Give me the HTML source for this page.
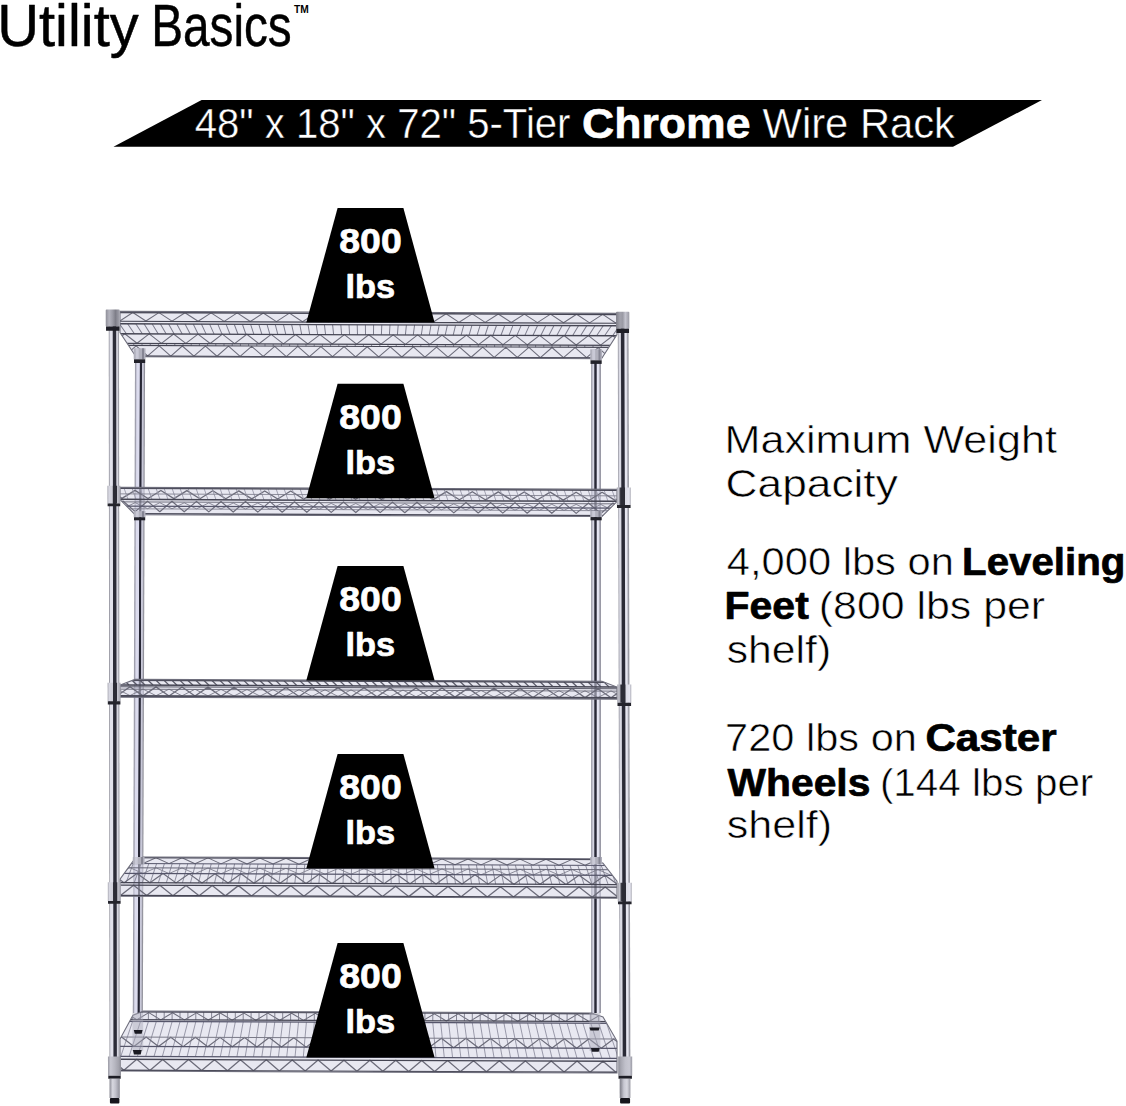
<!DOCTYPE html>
<html><head><meta charset="utf-8"><style>
html,body{margin:0;padding:0;background:#fff;}
body{width:1126px;height:1106px;overflow:hidden;position:relative;font-family:"Liberation Sans",sans-serif;}
svg{position:absolute;left:0;top:0;}
</style></head><body>
<svg width="1126" height="1106" viewBox="0 0 1126 1106">
<defs>
<linearGradient id="gOL" gradientUnits="userSpaceOnUse" x1="109.00" y1="0" x2="119.30" y2="0"><stop offset="0.000" stop-color="#9a9aa4"/><stop offset="0.040" stop-color="#9a9aa4"/><stop offset="0.120" stop-color="#e2e2ec"/><stop offset="0.340" stop-color="#e2e2ec"/><stop offset="0.430" stop-color="#2c2c38"/><stop offset="0.670" stop-color="#2c2c38"/><stop offset="0.770" stop-color="#d6d6e0"/><stop offset="0.840" stop-color="#d6d6e0"/><stop offset="0.940" stop-color="#a0a0aa"/><stop offset="1.000" stop-color="#a0a0aa"/></linearGradient>
<linearGradient id="gOR" gradientUnits="userSpaceOnUse" x1="618.40" y1="0" x2="629.20" y2="0"><stop offset="0.000" stop-color="#a6a6b0"/><stop offset="0.050" stop-color="#a6a6b0"/><stop offset="0.120" stop-color="#dadae4"/><stop offset="0.240" stop-color="#dadae4"/><stop offset="0.340" stop-color="#2a2a36"/><stop offset="0.570" stop-color="#2a2a36"/><stop offset="0.660" stop-color="#e6e6f0"/><stop offset="0.780" stop-color="#e6e6f0"/><stop offset="0.920" stop-color="#9a9aa4"/><stop offset="1.000" stop-color="#9a9aa4"/></linearGradient>
<linearGradient id="gIL" gradientUnits="userSpaceOnUse" x1="134.20" y1="0" x2="144.30" y2="0"><stop offset="0.000" stop-color="#a0a0ae"/><stop offset="0.080" stop-color="#a0a0ae"/><stop offset="0.200" stop-color="#dcdcee"/><stop offset="0.440" stop-color="#dcdcee"/><stop offset="0.510" stop-color="#262634"/><stop offset="0.650" stop-color="#262634"/><stop offset="0.720" stop-color="#c8c8d8"/><stop offset="0.820" stop-color="#c8c8d8"/><stop offset="0.940" stop-color="#92929c"/><stop offset="1.000" stop-color="#92929c"/></linearGradient>
<linearGradient id="gIR" gradientUnits="userSpaceOnUse" x1="591.00" y1="0" x2="601.00" y2="0"><stop offset="0.000" stop-color="#a6a6b2"/><stop offset="0.100" stop-color="#a6a6b2"/><stop offset="0.200" stop-color="#d4d4e2"/><stop offset="0.300" stop-color="#d4d4e2"/><stop offset="0.370" stop-color="#282836"/><stop offset="0.530" stop-color="#282836"/><stop offset="0.600" stop-color="#e6e6f4"/><stop offset="0.740" stop-color="#e6e6f4"/><stop offset="0.900" stop-color="#9a9aa6"/><stop offset="1.000" stop-color="#9a9aa6"/></linearGradient>
<linearGradient id="gcapL" gradientUnits="userSpaceOnUse" x1="106.00" y1="0" x2="120.00" y2="0"><stop offset="0.000" stop-color="#8e8e98"/><stop offset="0.250" stop-color="#b4b4be"/><stop offset="0.500" stop-color="#9a9aa4"/><stop offset="0.700" stop-color="#7e7e88"/><stop offset="1.000" stop-color="#a4a4ae"/></linearGradient>
<linearGradient id="gcapR" gradientUnits="userSpaceOnUse" x1="616.80" y1="0" x2="630.00" y2="0"><stop offset="0.000" stop-color="#7e7e88"/><stop offset="0.300" stop-color="#a2a2ac"/><stop offset="0.500" stop-color="#9a9aa4"/><stop offset="0.700" stop-color="#c4c4ce"/><stop offset="1.000" stop-color="#9a9aa4"/></linearGradient>
<linearGradient id="gcolL" gradientUnits="userSpaceOnUse" x1="107.50" y1="0" x2="120.50" y2="0"><stop offset="0.000" stop-color="#a8a8b2"/><stop offset="0.120" stop-color="#d8d8e2"/><stop offset="0.380" stop-color="#d0d0da"/><stop offset="0.440" stop-color="#2c2c36"/><stop offset="0.700" stop-color="#2c2c36"/><stop offset="0.760" stop-color="#c4c4ce"/><stop offset="1.000" stop-color="#a0a0aa"/></linearGradient>
<linearGradient id="gcolR" gradientUnits="userSpaceOnUse" x1="617.00" y1="0" x2="631.00" y2="0"><stop offset="0.000" stop-color="#a0a0aa"/><stop offset="0.140" stop-color="#c8c8d2"/><stop offset="0.280" stop-color="#2c2c36"/><stop offset="0.560" stop-color="#2c2c36"/><stop offset="0.620" stop-color="#dcdce6"/><stop offset="0.880" stop-color="#e4e4ee"/><stop offset="1.000" stop-color="#a8a8b2"/></linearGradient>
<linearGradient id="gcol5L" gradientUnits="userSpaceOnUse" x1="107.50" y1="0" x2="120.50" y2="0"><stop offset="0.000" stop-color="#9a9aa4"/><stop offset="0.200" stop-color="#c8c8d2"/><stop offset="0.500" stop-color="#b8b8c2"/><stop offset="0.800" stop-color="#a4a4ae"/><stop offset="1.000" stop-color="#8e8e98"/></linearGradient>
<linearGradient id="gcol5R" gradientUnits="userSpaceOnUse" x1="617.00" y1="0" x2="631.00" y2="0"><stop offset="0.000" stop-color="#8e8e98"/><stop offset="0.200" stop-color="#a8a8b2"/><stop offset="0.500" stop-color="#c0c0ca"/><stop offset="0.800" stop-color="#c8c8d2"/><stop offset="1.000" stop-color="#9a9aa4"/></linearGradient>
<linearGradient id="gicol" gradientUnits="userSpaceOnUse" x1="0.00" y1="0" x2="1.00" y2="0"><stop offset="0.000" stop-color="#9a9aa6"/><stop offset="0.300" stop-color="#c4c4d0"/><stop offset="0.600" stop-color="#a8a8b4"/><stop offset="1.000" stop-color="#8a8a96"/></linearGradient>
<linearGradient id="gfootL" gradientUnits="userSpaceOnUse" x1="109.00" y1="0" x2="119.50" y2="0"><stop offset="0.000" stop-color="#8c8c96"/><stop offset="0.300" stop-color="#d8d8e0"/><stop offset="0.600" stop-color="#c0c0ca"/><stop offset="1.000" stop-color="#8c8c96"/></linearGradient>
<linearGradient id="gfootR" gradientUnits="userSpaceOnUse" x1="619.50" y1="0" x2="630.00" y2="0"><stop offset="0.000" stop-color="#8c8c96"/><stop offset="0.300" stop-color="#c8c8d2"/><stop offset="0.600" stop-color="#d8d8e0"/><stop offset="1.000" stop-color="#8c8c96"/></linearGradient>
</defs>
<g transform="matrix(1 0 -0.0034 1 2.006 0)">
<rect x="134.20" y="360.00" width="10.10" height="653.00" fill="url(#gIL)"/>
</g>
<rect x="591.00" y="361.00" width="10.00" height="652.00" fill="url(#gIR)"/>
<g transform="matrix(1 0.0040 0 1 0 -1.920)">
<clipPath id="c0"><polygon points="120.0,312.8 617.0,312.8 617.0,334.0 601.5,358.2 136.0,358.2 120.0,334.0"/></clipPath>
<polygon points="120.0,312.8 617.0,312.8 617.0,334.0 601.5,358.2 136.0,358.2 120.0,334.0" fill="#d6d6e6" fill-opacity="0.55"/>
<g clip-path="url(#c0)">
<polyline points="54.6,313.9 67.6,322.4 80.7,313.9 93.7,322.4 106.8,313.9 119.8,322.4 132.8,313.9 145.9,322.4 158.9,313.9 172.0,322.4 185.0,313.9 198.1,322.4 211.1,313.9 224.2,322.4 237.2,313.9 250.3,322.4 263.3,313.9 276.4,322.4 289.4,313.9 302.5,322.4 315.6,313.9 328.6,322.4 341.7,313.9 354.7,322.4 367.8,313.9 380.8,322.4 393.9,313.9 406.9,322.4 420.0,313.9 433.0,322.4 446.1,313.9 459.1,322.4 472.2,313.9 485.2,322.4 498.3,313.9 511.3,322.4 524.4,313.9 537.4,322.4 550.5,313.9 563.5,322.4 576.6,313.9 589.6,322.4 602.7,313.9 615.7,322.4 628.8,313.9 641.8,322.4 654.9,313.9 667.9,322.4" fill="none" stroke="#6c6c7a" stroke-width="1.05" stroke-linejoin="round"/>
<path d="M103.0 325.2L110.4 335.2M111.2 325.2L118.4 335.2M119.4 325.2L126.4 335.2M127.6 325.2L134.4 335.2M135.8 325.2L142.3 335.2M144.0 325.2L150.3 335.2M152.2 325.2L158.3 335.2M160.4 325.2L166.2 335.2M168.6 325.2L174.2 335.2M176.8 325.2L182.2 335.2M185.0 325.2L190.2 335.2M193.2 325.2L198.1 335.2M201.4 325.2L206.1 335.2M209.6 325.2L214.1 335.2M217.8 325.2L222.0 335.2M226.0 325.2L230.0 335.2M234.2 325.2L238.0 335.2M242.4 325.2L245.9 335.2M250.6 325.2L253.9 335.2M258.8 325.2L261.9 335.2M267.0 325.2L269.9 335.2M275.2 325.2L277.8 335.2M283.4 325.2L285.8 335.2M291.6 325.2L293.8 335.2M299.8 325.2L301.7 335.2M308.0 325.2L309.7 335.2M316.2 325.2L317.7 335.2M324.4 325.2L325.6 335.2M332.6 325.2L333.6 335.2M340.8 325.2L341.6 335.2M349.0 325.2L349.6 335.2M357.2 325.2L357.5 335.2M365.4 325.2L365.5 335.2M373.6 325.2L373.5 335.2M381.8 325.2L381.4 335.2M390.0 325.2L389.4 335.2M398.2 325.2L397.4 335.2M406.4 325.2L405.4 335.2M414.6 325.2L413.3 335.2M422.8 325.2L421.3 335.2M431.0 325.2L429.3 335.2M439.2 325.2L437.2 335.2M447.4 325.2L445.2 335.2M455.6 325.2L453.2 335.2M463.8 325.2L461.1 335.2M472.0 325.2L469.1 335.2M480.2 325.2L477.1 335.2M488.4 325.2L485.1 335.2M496.6 325.2L493.0 335.2M504.8 325.2L501.0 335.2M513.0 325.2L509.0 335.2M521.2 325.2L516.9 335.2M529.4 325.2L524.9 335.2M537.6 325.2L532.9 335.2M545.8 325.2L540.8 335.2M554.0 325.2L548.8 335.2M562.2 325.2L556.8 335.2M570.4 325.2L564.8 335.2M578.6 325.2L572.7 335.2M586.8 325.2L580.7 335.2M595.0 325.2L588.7 335.2M603.2 325.2L596.6 335.2M611.4 325.2L604.6 335.2M619.6 325.2L612.6 335.2M627.8 325.2L620.6 335.2M636.0 325.2L628.5 335.2" stroke="#7c7c8c" stroke-width="1.0" fill="none"/>
<polyline points="51.6,335.2 63.8,344.6 76.0,335.2 88.2,344.6 100.4,335.2 112.6,344.6 124.8,335.2 137.0,344.6 149.2,335.2 161.4,344.6 173.6,335.2 185.8,344.6 198.0,335.2 210.2,344.6 222.4,335.2 234.6,344.6 246.8,335.2 259.0,344.6 271.2,335.2 283.4,344.6 295.6,335.2 307.8,344.6 320.0,335.2 332.2,344.6 344.4,335.2 356.6,344.6 368.8,335.2 381.0,344.6 393.2,335.2 405.4,344.6 417.6,335.2 429.8,344.6 442.0,335.2 454.2,344.6 466.4,335.2 478.6,344.6 490.8,335.2 503.0,344.6 515.2,335.2 527.4,344.6 539.6,335.2 551.8,344.6 564.0,335.2 576.2,344.6 588.4,335.2 600.6,344.6 612.8,335.2 625.0,344.6 637.2,335.2 649.4,344.6 661.6,335.2 673.8,344.6" fill="none" stroke="#6c6c7a" stroke-width="1.05" stroke-linejoin="round"/>
<path d="M101.0 344.8L101.0 347.0M109.2 344.8L109.2 347.0M117.4 344.8L117.4 347.0M125.6 344.8L125.6 347.0M133.8 344.8L133.8 347.0M142.0 344.8L142.0 347.0M150.2 344.8L150.2 347.0M158.4 344.8L158.4 347.0M166.6 344.8L166.6 347.0M174.8 344.8L174.8 347.0M183.0 344.8L183.0 347.0M191.2 344.8L191.2 347.0M199.4 344.8L199.4 347.0M207.6 344.8L207.6 347.0M215.8 344.8L215.8 347.0M224.0 344.8L224.0 347.0M232.2 344.8L232.2 347.0M240.4 344.8L240.4 347.0M248.6 344.8L248.6 347.0M256.8 344.8L256.8 347.0M265.0 344.8L265.0 347.0M273.2 344.8L273.2 347.0M281.4 344.8L281.4 347.0M289.6 344.8L289.6 347.0M297.8 344.8L297.8 347.0M306.0 344.8L306.0 347.0M314.2 344.8L314.2 347.0M322.4 344.8L322.4 347.0M330.6 344.8L330.6 347.0M338.8 344.8L338.8 347.0M347.0 344.8L347.0 347.0M355.2 344.8L355.2 347.0M363.4 344.8L363.4 347.0M371.6 344.8L371.6 347.0M379.8 344.8L379.8 347.0M388.0 344.8L388.0 347.0M396.2 344.8L396.2 347.0M404.4 344.8L404.4 347.0M412.6 344.8L412.6 347.0M420.8 344.8L420.8 347.0M429.0 344.8L429.0 347.0M437.2 344.8L437.2 347.0M445.4 344.8L445.4 347.0M453.6 344.8L453.6 347.0M461.8 344.8L461.8 347.0M470.0 344.8L470.0 347.0M478.2 344.8L478.2 347.0M486.4 344.8L486.4 347.0M494.6 344.8L494.6 347.0M502.8 344.8L502.8 347.0M511.0 344.8L511.0 347.0M519.2 344.8L519.2 347.0M527.4 344.8L527.4 347.0M535.6 344.8L535.6 347.0M543.8 344.8L543.8 347.0M552.0 344.8L552.0 347.0M560.2 344.8L560.2 347.0M568.4 344.8L568.4 347.0M576.6 344.8L576.6 347.0M584.8 344.8L584.8 347.0M593.0 344.8L593.0 347.0M601.2 344.8L601.2 347.0M609.4 344.8L609.4 347.0M617.6 344.8L617.6 347.0M625.8 344.8L625.8 347.0M634.0 344.8L634.0 347.0" stroke="#7c7c8c" stroke-width="1.0" fill="none"/>
<polyline points="66.8,347.2 78.4,357.3 89.9,347.2 101.5,357.3 113.0,347.2 124.6,357.3 136.1,347.2 147.7,357.3 159.2,347.2 170.8,357.3 182.3,347.2 193.9,357.3 205.4,347.2 217.0,357.3 228.5,347.2 240.1,357.3 251.6,347.2 263.2,357.3 274.7,347.2 286.3,357.3 297.8,347.2 309.4,357.3 320.9,347.2 332.5,357.3 344.1,347.2 355.6,357.3 367.2,347.2 378.7,357.3 390.3,347.2 401.8,357.3 413.4,347.2 424.9,357.3 436.5,347.2 448.0,357.3 459.6,347.2 471.1,357.3 482.7,347.2 494.2,357.3 505.8,347.2 517.3,357.3 528.9,347.2 540.4,357.3 552.0,347.2 563.5,357.3 575.1,347.2 586.6,357.3 598.2,347.2 609.7,357.3 621.3,347.2 632.8,357.3 644.4,347.2 655.9,357.3" fill="none" stroke="#6c6c7a" stroke-width="1.05" stroke-linejoin="round"/>
<line x1="100.0" y1="313.90" x2="640.0" y2="313.90" stroke="#454553" stroke-width="1.7"/>
<line x1="100.0" y1="322.70" x2="640.0" y2="322.70" stroke="#454553" stroke-width="1.2"/>
<line x1="100.0" y1="325.20" x2="640.0" y2="325.20" stroke="#454553" stroke-width="1.3"/>
<line x1="100.0" y1="335.20" x2="640.0" y2="335.20" stroke="#454553" stroke-width="1.3"/>
<line x1="100.0" y1="344.80" x2="640.0" y2="344.80" stroke="#454553" stroke-width="1.3"/>
<line x1="100.0" y1="346.90" x2="640.0" y2="346.90" stroke="#454553" stroke-width="1.2"/>
<line x1="100.0" y1="357.60" x2="640.0" y2="357.60" stroke="#454553" stroke-width="1.6"/>
</g>
<polygon points="120.0,312.8 617.0,312.8 617.0,334.0 601.5,358.2 136.0,358.2 120.0,334.0" fill="none" stroke="#6e6e7c" stroke-width="1.1"/>
</g>
<g transform="matrix(1 0.0040 0 1 0 -0.920)">
<clipPath id="c1"><polygon points="120.0,487.8 617.0,487.8 617.0,500.0 602.0,515.0 135.0,515.0 120.0,500.0"/></clipPath>
<polygon points="120.0,487.8 617.0,487.8 617.0,500.0 602.0,515.0 135.0,515.0 120.0,500.0" fill="#d6d6e6" fill-opacity="0.55"/>
<g clip-path="url(#c1)">
<polyline points="57.2,490.8 70.1,498.8 83.1,490.8 96.1,498.8 109.1,490.8 122.0,498.8 135.0,490.8 148.0,498.8 160.9,490.8 173.9,498.8 186.9,490.8 199.9,498.8 212.8,490.8 225.8,498.8 238.8,490.8 251.8,498.8 264.7,490.8 277.7,498.8 290.7,490.8 303.7,498.8 316.6,490.8 329.6,498.8 342.6,490.8 355.6,498.8 368.5,490.8 381.5,498.8 394.5,490.8 407.5,498.8 420.4,490.8 433.4,498.8 446.4,490.8 459.4,498.8 472.3,490.8 485.3,498.8 498.3,490.8 511.3,498.8 524.2,490.8 537.2,498.8 550.2,490.8 563.2,498.8 576.1,490.8 589.1,498.8 602.1,490.8 615.1,498.8 628.1,490.8 641.0,498.8 654.0,490.8 667.0,498.8" fill="none" stroke="#6c6c7a" stroke-width="1.3" stroke-linejoin="round"/>
<path d="M100.0 488.4L104.0 499.8M108.0 488.4L112.0 499.8M116.0 488.4L120.0 499.8M124.0 488.4L128.0 499.8M132.0 488.4L136.0 499.8M140.0 488.4L144.0 499.8M148.0 488.4L152.0 499.8M156.0 488.4L160.0 499.8M164.0 488.4L168.0 499.8M172.0 488.4L176.0 499.8M180.0 488.4L184.0 499.8M188.0 488.4L192.0 499.8M196.0 488.4L200.0 499.8M204.0 488.4L208.0 499.8M212.0 488.4L216.0 499.8M220.0 488.4L224.0 499.8M228.0 488.4L232.0 499.8M236.0 488.4L240.0 499.8M244.0 488.4L248.0 499.8M252.0 488.4L256.0 499.8M260.0 488.4L264.0 499.8M268.0 488.4L272.0 499.8M276.0 488.4L280.0 499.8M284.0 488.4L288.0 499.8M292.0 488.4L296.0 499.8M300.0 488.4L304.0 499.8M308.0 488.4L312.0 499.8M316.0 488.4L320.0 499.8M324.0 488.4L328.0 499.8M332.0 488.4L336.0 499.8M340.0 488.4L344.0 499.8M348.0 488.4L352.0 499.8M356.0 488.4L360.0 499.8M364.0 488.4L368.0 499.8M372.0 488.4L376.0 499.8M380.0 488.4L384.0 499.8M388.0 488.4L392.0 499.8M396.0 488.4L400.0 499.8M404.0 488.4L408.0 499.8M412.0 488.4L416.0 499.8M420.0 488.4L424.0 499.8M428.0 488.4L432.0 499.8M436.0 488.4L440.0 499.8M444.0 488.4L448.0 499.8M452.0 488.4L456.0 499.8M460.0 488.4L464.0 499.8M468.0 488.4L472.0 499.8M476.0 488.4L480.0 499.8M484.0 488.4L488.0 499.8M492.0 488.4L496.0 499.8M500.0 488.4L504.0 499.8M508.0 488.4L512.0 499.8M516.0 488.4L520.0 499.8M524.0 488.4L528.0 499.8M532.0 488.4L536.0 499.8M540.0 488.4L544.0 499.8M548.0 488.4L552.0 499.8M556.0 488.4L560.0 499.8M564.0 488.4L568.0 499.8M572.0 488.4L576.0 499.8M580.0 488.4L584.0 499.8M588.0 488.4L592.0 499.8M596.0 488.4L600.0 499.8M604.0 488.4L608.0 499.8M612.0 488.4L616.0 499.8M620.0 488.4L624.0 499.8M628.0 488.4L632.0 499.8M636.0 488.4L640.0 499.8" stroke="#9a9aaa" stroke-width="0.9" fill="none"/>
<polyline points="74.0,501.5 86.2,512.0 98.5,501.5 110.8,512.0 123.0,501.5 135.2,512.0 147.5,501.5 159.8,512.0 172.0,501.5 184.2,512.0 196.5,501.5 208.8,512.0 221.0,501.5 233.2,512.0 245.5,501.5 257.8,512.0 270.0,501.5 282.2,512.0 294.5,501.5 306.8,512.0 319.0,501.5 331.2,512.0 343.5,501.5 355.8,512.0 368.0,501.5 380.2,512.0 392.5,501.5 404.8,512.0 417.0,501.5 429.2,512.0 441.5,501.5 453.8,512.0 466.0,501.5 478.2,512.0 490.5,501.5 502.8,512.0 515.0,501.5 527.2,512.0 539.5,501.5 551.8,512.0 564.0,501.5 576.2,512.0 588.5,501.5 600.8,512.0 613.0,501.5 625.2,512.0 637.5,501.5 649.8,512.0 662.0,501.5 674.2,512.0" fill="none" stroke="#6c6c7a" stroke-width="1.2" stroke-linejoin="round"/>
<polyline points="61.8,503.0 74.0,509.0 86.2,503.0 98.5,509.0 110.8,503.0 123.0,509.0 135.2,503.0 147.5,509.0 159.8,503.0 172.0,509.0 184.2,503.0 196.5,509.0 208.8,503.0 221.0,509.0 233.2,503.0 245.5,509.0 257.8,503.0 270.0,509.0 282.2,503.0 294.5,509.0 306.8,503.0 319.0,509.0 331.2,503.0 343.5,509.0 355.8,503.0 368.0,509.0 380.2,503.0 392.5,509.0 404.8,503.0 417.0,509.0 429.2,503.0 441.5,509.0 453.8,503.0 466.0,509.0 478.2,503.0 490.5,509.0 502.8,503.0 515.0,509.0 527.2,503.0 539.5,509.0 551.8,503.0 564.0,509.0 576.2,503.0 588.5,509.0 600.8,503.0 613.0,509.0 625.2,503.0 637.5,509.0 649.8,503.0 662.0,509.0" fill="none" stroke="#80808e" stroke-width="0.9" stroke-linejoin="round"/>
<line x1="100.0" y1="488.60" x2="640.0" y2="488.60" stroke="#454553" stroke-width="1.7"/>
<line x1="100.0" y1="494.30" x2="640.0" y2="494.30" stroke="#777786" stroke-width="0.8"/>
<line x1="100.0" y1="499.80" x2="640.0" y2="499.80" stroke="#454553" stroke-width="1.5"/>
<line x1="100.0" y1="502.30" x2="640.0" y2="502.30" stroke="#666674" stroke-width="0.9"/>
<line x1="100.0" y1="506.50" x2="640.0" y2="506.50" stroke="#55556a" stroke-width="1.2"/>
<line x1="100.0" y1="509.20" x2="640.0" y2="509.20" stroke="#777786" stroke-width="0.8"/>
<line x1="100.0" y1="514.20" x2="640.0" y2="514.20" stroke="#454553" stroke-width="1.6"/>
</g>
<polygon points="120.0,487.8 617.0,487.8 617.0,500.0 602.0,515.0 135.0,515.0 120.0,500.0" fill="none" stroke="#6e6e7c" stroke-width="1.1"/>
</g>
<g transform="matrix(1 0.0040 0 1 0 -1.920)">
<clipPath id="c2"><polygon points="135.0,680.8 602.0,680.8 617.0,686.5 617.0,698.6 120.0,698.6 120.0,686.5"/></clipPath>
<polygon points="135.0,680.8 602.0,680.8 617.0,686.5 617.0,698.6 120.0,698.6 120.0,686.5" fill="#d6d6e6" fill-opacity="0.55"/>
<g clip-path="url(#c2)">
<path d="M100.0 681.6L105.0 686.4M108.0 681.6L113.0 686.4M116.0 681.6L121.0 686.4M124.0 681.6L129.0 686.4M132.0 681.6L137.0 686.4M140.0 681.6L145.0 686.4M148.0 681.6L153.0 686.4M156.0 681.6L161.0 686.4M164.0 681.6L169.0 686.4M172.0 681.6L177.0 686.4M180.0 681.6L185.0 686.4M188.0 681.6L193.0 686.4M196.0 681.6L201.0 686.4M204.0 681.6L209.0 686.4M212.0 681.6L217.0 686.4M220.0 681.6L225.0 686.4M228.0 681.6L233.0 686.4M236.0 681.6L241.0 686.4M244.0 681.6L249.0 686.4M252.0 681.6L257.0 686.4M260.0 681.6L265.0 686.4M268.0 681.6L273.0 686.4M276.0 681.6L281.0 686.4M284.0 681.6L289.0 686.4M292.0 681.6L297.0 686.4M300.0 681.6L305.0 686.4M308.0 681.6L313.0 686.4M316.0 681.6L321.0 686.4M324.0 681.6L329.0 686.4M332.0 681.6L337.0 686.4M340.0 681.6L345.0 686.4M348.0 681.6L353.0 686.4M356.0 681.6L361.0 686.4M364.0 681.6L369.0 686.4M372.0 681.6L377.0 686.4M380.0 681.6L385.0 686.4M388.0 681.6L393.0 686.4M396.0 681.6L401.0 686.4M404.0 681.6L409.0 686.4M412.0 681.6L417.0 686.4M420.0 681.6L425.0 686.4M428.0 681.6L433.0 686.4M436.0 681.6L441.0 686.4M444.0 681.6L449.0 686.4M452.0 681.6L457.0 686.4M460.0 681.6L465.0 686.4M468.0 681.6L473.0 686.4M476.0 681.6L481.0 686.4M484.0 681.6L489.0 686.4M492.0 681.6L497.0 686.4M500.0 681.6L505.0 686.4M508.0 681.6L513.0 686.4M516.0 681.6L521.0 686.4M524.0 681.6L529.0 686.4M532.0 681.6L537.0 686.4M540.0 681.6L545.0 686.4M548.0 681.6L553.0 686.4M556.0 681.6L561.0 686.4M564.0 681.6L569.0 686.4M572.0 681.6L577.0 686.4M580.0 681.6L585.0 686.4M588.0 681.6L593.0 686.4M596.0 681.6L601.0 686.4M604.0 681.6L609.0 686.4M612.0 681.6L617.0 686.4M620.0 681.6L625.0 686.4M628.0 681.6L633.0 686.4M636.0 681.6L641.0 686.4" stroke="#5c5c6a" stroke-width="1.3" fill="none"/>
<polyline points="65.0,697.2 78.0,688.2 91.0,697.2 104.0,688.2 117.0,697.2 130.0,688.2 143.0,697.2 156.0,688.2 169.0,697.2 182.0,688.2 195.0,697.2 208.0,688.2 221.0,697.2 234.0,688.2 247.0,697.2 260.0,688.2 273.0,697.2 286.0,688.2 299.0,697.2 312.0,688.2 325.0,697.2 338.0,688.2 351.0,697.2 364.0,688.2 377.0,697.2 390.0,688.2 403.0,697.2 416.0,688.2 429.0,697.2 442.0,688.2 455.0,697.2 468.0,688.2 481.0,697.2 494.0,688.2 507.0,697.2 520.0,688.2 533.0,697.2 546.0,688.2 559.0,697.2 572.0,688.2 585.0,697.2 598.0,688.2 611.0,697.2 624.0,688.2 637.0,697.2 650.0,688.2 663.0,697.2 676.0,688.2" fill="none" stroke="#6c6c7a" stroke-width="1.3" stroke-linejoin="round"/>
<polyline points="52.0,697.0 65.0,690.4 78.0,697.0 91.0,690.4 104.0,697.0 117.0,690.4 130.0,697.0 143.0,690.4 156.0,697.0 169.0,690.4 182.0,697.0 195.0,690.4 208.0,697.0 221.0,690.4 234.0,697.0 247.0,690.4 260.0,697.0 273.0,690.4 286.0,697.0 299.0,690.4 312.0,697.0 325.0,690.4 338.0,697.0 351.0,690.4 364.0,697.0 377.0,690.4 390.0,697.0 403.0,690.4 416.0,697.0 429.0,690.4 442.0,697.0 455.0,690.4 468.0,697.0 481.0,690.4 494.0,697.0 507.0,690.4 520.0,697.0 533.0,690.4 546.0,697.0 559.0,690.4 572.0,697.0 585.0,690.4 598.0,697.0 611.0,690.4 624.0,697.0 637.0,690.4 650.0,697.0 663.0,690.4" fill="none" stroke="#7a7a88" stroke-width="0.9" stroke-linejoin="round"/>
<line x1="100.0" y1="681.60" x2="640.0" y2="681.60" stroke="#454553" stroke-width="1.7"/>
<line x1="100.0" y1="686.50" x2="640.0" y2="686.50" stroke="#454553" stroke-width="1.5"/>
<line x1="100.0" y1="688.20" x2="640.0" y2="688.20" stroke="#5a5a68" stroke-width="1.0"/>
<line x1="100.0" y1="690.60" x2="640.0" y2="690.60" stroke="#6a6a78" stroke-width="0.9"/>
<line x1="100.0" y1="697.50" x2="640.0" y2="697.50" stroke="#4a4a58" stroke-width="2.0"/>
</g>
<polygon points="135.0,680.8 602.0,680.8 617.0,686.5 617.0,698.6 120.0,698.6 120.0,686.5" fill="none" stroke="#6e6e7c" stroke-width="1.1"/>
</g>
<g transform="matrix(1 0.0040 0 1 0 -1.220)">
<clipPath id="c3"><polygon points="143.5,857.6 591.5,857.6 603.0,862.0 617.0,880.0 617.0,897.0 120.0,897.0 120.0,880.0 133.0,862.0"/></clipPath>
<polygon points="143.5,857.6 591.5,857.6 603.0,862.0 617.0,880.0 617.0,897.0 120.0,897.0 120.0,880.0 133.0,862.0" fill="#d6d6e6" fill-opacity="0.55"/>
<g clip-path="url(#c3)">
<polyline points="65.0,864.2 78.0,858.3 91.0,864.2 104.0,858.3 117.0,864.2 130.0,858.3 143.0,864.2 156.0,858.3 169.0,864.2 182.0,858.3 195.0,864.2 208.0,858.3 221.0,864.2 234.0,858.3 247.0,864.2 260.0,858.3 273.0,864.2 286.0,858.3 299.0,864.2 312.0,858.3 325.0,864.2 338.0,858.3 351.0,864.2 364.0,858.3 377.0,864.2 390.0,858.3 403.0,864.2 416.0,858.3 429.0,864.2 442.0,858.3 455.0,864.2 468.0,858.3 481.0,864.2 494.0,858.3 507.0,864.2 520.0,858.3 533.0,864.2 546.0,858.3 559.0,864.2 572.0,858.3 585.0,864.2 598.0,858.3 611.0,864.2 624.0,858.3 637.0,864.2 650.0,858.3 663.0,864.2 676.0,858.3" fill="none" stroke="#6c6c7a" stroke-width="1.0" stroke-linejoin="round"/>
<path d="M102.0 864.2L94.0 883.4M109.8 864.2L102.0 883.4M117.6 864.2L110.1 883.4M125.4 864.2L118.1 883.4M133.2 864.2L126.1 883.4M141.0 864.2L134.2 883.4M148.8 864.2L142.2 883.4M156.6 864.2L150.2 883.4M164.4 864.2L158.3 883.4M172.2 864.2L166.3 883.4M180.0 864.2L174.3 883.4M187.8 864.2L182.4 883.4M195.6 864.2L190.4 883.4M203.4 864.2L198.4 883.4M211.2 864.2L206.5 883.4M219.0 864.2L214.5 883.4M226.8 864.2L222.5 883.4M234.6 864.2L230.6 883.4M242.4 864.2L238.6 883.4M250.2 864.2L246.6 883.4M258.0 864.2L254.7 883.4M265.8 864.2L262.7 883.4M273.6 864.2L270.7 883.4M281.4 864.2L278.8 883.4M289.2 864.2L286.8 883.4M297.0 864.2L294.8 883.4M304.8 864.2L302.9 883.4M312.6 864.2L310.9 883.4M320.4 864.2L318.9 883.4M328.2 864.2L327.0 883.4M336.0 864.2L335.0 883.4M343.8 864.2L343.0 883.4M351.6 864.2L351.1 883.4M359.4 864.2L359.1 883.4M367.2 864.2L367.1 883.4M375.0 864.2L375.2 883.4M382.8 864.2L383.2 883.4M390.6 864.2L391.2 883.4M398.4 864.2L399.3 883.4M406.2 864.2L407.3 883.4M414.0 864.2L415.4 883.4M421.8 864.2L423.4 883.4M429.6 864.2L431.4 883.4M437.4 864.2L439.5 883.4M445.2 864.2L447.5 883.4M453.0 864.2L455.5 883.4M460.8 864.2L463.6 883.4M468.6 864.2L471.6 883.4M476.4 864.2L479.6 883.4M484.2 864.2L487.7 883.4M492.0 864.2L495.7 883.4M499.8 864.2L503.7 883.4M507.6 864.2L511.8 883.4M515.4 864.2L519.8 883.4M523.2 864.2L527.8 883.4M531.0 864.2L535.9 883.4M538.8 864.2L543.9 883.4M546.6 864.2L551.9 883.4M554.4 864.2L560.0 883.4M562.2 864.2L568.0 883.4M570.0 864.2L576.0 883.4M577.8 864.2L584.1 883.4M585.6 864.2L592.1 883.4M593.4 864.2L600.1 883.4M601.2 864.2L608.2 883.4M609.0 864.2L616.2 883.4M616.8 864.2L624.2 883.4M624.6 864.2L632.3 883.4M632.4 864.2L640.3 883.4" stroke="#9090a0" stroke-width="1.0" fill="none"/>
<polyline points="52.0,868.4 65.0,874.1 78.0,868.4 91.0,874.1 104.0,868.4 117.0,874.1 130.0,868.4 143.0,874.1 156.0,868.4 169.0,874.1 182.0,868.4 195.0,874.1 208.0,868.4 221.0,874.1 234.0,868.4 247.0,874.1 260.0,868.4 273.0,874.1 286.0,868.4 299.0,874.1 312.0,868.4 325.0,874.1 338.0,868.4 351.0,874.1 364.0,868.4 377.0,874.1 390.0,868.4 403.0,874.1 416.0,868.4 429.0,874.1 442.0,868.4 455.0,874.1 468.0,868.4 481.0,874.1 494.0,868.4 507.0,874.1 520.0,868.4 533.0,874.1 546.0,868.4 559.0,874.1 572.0,868.4 585.0,874.1 598.0,868.4 611.0,874.1 624.0,868.4 637.0,874.1 650.0,868.4 663.0,874.1" fill="none" stroke="#80808e" stroke-width="0.9" stroke-linejoin="round"/>
<polyline points="72.0,883.4 85.0,874.1 98.0,883.4 111.0,874.1 124.0,883.4 137.0,874.1 150.0,883.4 163.0,874.1 176.0,883.4 189.0,874.1 202.0,883.4 215.0,874.1 228.0,883.4 241.0,874.1 254.0,883.4 267.0,874.1 280.0,883.4 293.0,874.1 306.0,883.4 319.0,874.1 332.0,883.4 345.0,874.1 358.0,883.4 371.0,874.1 384.0,883.4 397.0,874.1 410.0,883.4 423.0,874.1 436.0,883.4 449.0,874.1 462.0,883.4 475.0,874.1 488.0,883.4 501.0,874.1 514.0,883.4 527.0,874.1 540.0,883.4 553.0,874.1 566.0,883.4 579.0,874.1 592.0,883.4 605.0,874.1 618.0,883.4 631.0,874.1 644.0,883.4 657.0,874.1" fill="none" stroke="#6c6c7a" stroke-width="1.2" stroke-linejoin="round"/>
<polyline points="55.0,885.9 68.1,896.2 81.2,885.9 94.3,896.2 107.4,885.9 120.5,896.2 133.6,885.9 146.7,896.2 159.8,885.9 172.9,896.2 186.0,885.9 199.1,896.2 212.2,885.9 225.3,896.2 238.4,885.9 251.5,896.2 264.6,885.9 277.7,896.2 290.8,885.9 303.9,896.2 317.0,885.9 330.1,896.2 343.2,885.9 356.3,896.2 369.4,885.9 382.5,896.2 395.6,885.9 408.7,896.2 421.8,885.9 434.9,896.2 448.0,885.9 461.1,896.2 474.2,885.9 487.3,896.2 500.4,885.9 513.5,896.2 526.6,885.9 539.7,896.2 552.8,885.9 565.9,896.2 579.0,885.9 592.1,896.2 605.2,885.9 618.3,896.2 631.4,885.9 644.5,896.2 657.6,885.9 670.7,896.2" fill="none" stroke="#6c6c7a" stroke-width="1.3" stroke-linejoin="round"/>
<line x1="100.0" y1="858.20" x2="640.0" y2="858.20" stroke="#454553" stroke-width="1.5"/>
<line x1="100.0" y1="864.20" x2="640.0" y2="864.20" stroke="#55556a" stroke-width="1.1"/>
<line x1="100.0" y1="868.40" x2="640.0" y2="868.40" stroke="#666676" stroke-width="1.0"/>
<line x1="100.0" y1="874.10" x2="640.0" y2="874.10" stroke="#55556a" stroke-width="1.1"/>
<line x1="100.0" y1="883.40" x2="640.0" y2="883.40" stroke="#454553" stroke-width="1.2"/>
<line x1="100.0" y1="885.90" x2="640.0" y2="885.90" stroke="#454553" stroke-width="1.3"/>
<line x1="100.0" y1="896.40" x2="640.0" y2="896.40" stroke="#454553" stroke-width="1.7"/>
</g>
<polygon points="143.5,857.6 591.5,857.6 603.0,862.0 617.0,880.0 617.0,897.0 120.0,897.0 120.0,880.0 133.0,862.0" fill="none" stroke="#6e6e7c" stroke-width="1.1"/>
</g>
<g transform="matrix(1 0.0040 0 1 0 -1.420)">
<clipPath id="c4"><polygon points="143.5,1012.0 591.5,1012.0 603.0,1016.0 617.0,1040.0 617.0,1072.0 120.0,1072.0 120.0,1040.0 133.0,1016.0"/></clipPath>
<polygon points="143.5,1012.0 591.5,1012.0 603.0,1016.0 617.0,1040.0 617.0,1072.0 120.0,1072.0 120.0,1040.0 133.0,1016.0" fill="#d6d6e6" fill-opacity="0.55"/>
<g clip-path="url(#c4)">
<polyline points="53.6,1013.5 65.5,1020.6 77.4,1013.5 89.3,1020.6 101.2,1013.5 113.1,1020.6 125.0,1013.5 136.9,1020.6 148.8,1013.5 160.7,1020.6 172.6,1013.5 184.5,1020.6 196.4,1013.5 208.3,1020.6 220.2,1013.5 232.1,1020.6 244.0,1013.5 255.9,1020.6 267.8,1013.5 279.7,1020.6 291.6,1013.5 303.5,1020.6 315.4,1013.5 327.3,1020.6 339.2,1013.5 351.1,1020.6 363.0,1013.5 374.9,1020.6 386.8,1013.5 398.7,1020.6 410.6,1013.5 422.5,1020.6 434.4,1013.5 446.3,1020.6 458.2,1013.5 470.1,1020.6 482.0,1013.5 493.9,1020.6 505.8,1013.5 517.7,1020.6 529.6,1013.5 541.5,1020.6 553.4,1013.5 565.3,1020.6 577.2,1013.5 589.1,1020.6 601.0,1013.5 612.9,1020.6 624.8,1013.5 636.7,1020.6 648.6,1013.5 660.5,1020.6" fill="none" stroke="#6c6c7a" stroke-width="1.0" stroke-linejoin="round"/>
<path d="M101.0 1022.3L87.6 1057.3M108.9 1022.3L95.9 1057.3M116.8 1022.3L104.2 1057.3M124.7 1022.3L112.5 1057.3M132.6 1022.3L120.8 1057.3M140.5 1022.3L129.1 1057.3M148.4 1022.3L137.4 1057.3M156.3 1022.3L145.7 1057.3M164.2 1022.3L154.0 1057.3M172.1 1022.3L162.3 1057.3M180.0 1022.3L170.6 1057.3M187.9 1022.3L178.8 1057.3M195.8 1022.3L187.1 1057.3M203.7 1022.3L195.4 1057.3M211.6 1022.3L203.7 1057.3M219.5 1022.3L212.0 1057.3M227.4 1022.3L220.3 1057.3M235.3 1022.3L228.6 1057.3M243.2 1022.3L236.9 1057.3M251.1 1022.3L245.2 1057.3M259.0 1022.3L253.5 1057.3M266.9 1022.3L261.8 1057.3M274.8 1022.3L270.1 1057.3M282.7 1022.3L278.4 1057.3M290.6 1022.3L286.7 1057.3M298.5 1022.3L295.0 1057.3M306.4 1022.3L303.3 1057.3M314.3 1022.3L311.6 1057.3M322.2 1022.3L319.9 1057.3M330.1 1022.3L328.2 1057.3M338.0 1022.3L336.4 1057.3M345.9 1022.3L344.7 1057.3M353.8 1022.3L353.0 1057.3M361.7 1022.3L361.3 1057.3M369.6 1022.3L369.6 1057.3M377.5 1022.3L377.9 1057.3M385.4 1022.3L386.2 1057.3M393.3 1022.3L394.5 1057.3M401.2 1022.3L402.8 1057.3M409.1 1022.3L411.1 1057.3M417.0 1022.3L419.4 1057.3M424.9 1022.3L427.7 1057.3M432.8 1022.3L436.0 1057.3M440.7 1022.3L444.3 1057.3M448.6 1022.3L452.6 1057.3M456.5 1022.3L460.9 1057.3M464.4 1022.3L469.2 1057.3M472.3 1022.3L477.5 1057.3M480.2 1022.3L485.8 1057.3M488.1 1022.3L494.1 1057.3M496.0 1022.3L502.3 1057.3M503.9 1022.3L510.6 1057.3M511.8 1022.3L518.9 1057.3M519.7 1022.3L527.2 1057.3M527.6 1022.3L535.5 1057.3M535.5 1022.3L543.8 1057.3M543.4 1022.3L552.1 1057.3M551.3 1022.3L560.4 1057.3M559.2 1022.3L568.7 1057.3M567.1 1022.3L577.0 1057.3M575.0 1022.3L585.3 1057.3M582.9 1022.3L593.6 1057.3M590.8 1022.3L601.9 1057.3M598.7 1022.3L610.2 1057.3M606.6 1022.3L618.5 1057.3M614.5 1022.3L626.8 1057.3M622.4 1022.3L635.1 1057.3M630.3 1022.3L643.4 1057.3M638.2 1022.3L651.7 1057.3" stroke="#9a9aaa" stroke-width="1.0" fill="none"/>
<path d="M101.0 1012.4L101.0 1020.6M108.9 1012.4L108.9 1020.6M116.8 1012.4L116.8 1020.6M124.7 1012.4L124.7 1020.6M132.6 1012.4L132.6 1020.6M140.5 1012.4L140.5 1020.6M148.4 1012.4L148.4 1020.6M156.3 1012.4L156.3 1020.6M164.2 1012.4L164.2 1020.6M172.1 1012.4L172.1 1020.6M180.0 1012.4L180.0 1020.6M187.9 1012.4L187.9 1020.6M195.8 1012.4L195.8 1020.6M203.7 1012.4L203.7 1020.6M211.6 1012.4L211.6 1020.6M219.5 1012.4L219.5 1020.6M227.4 1012.4L227.4 1020.6M235.3 1012.4L235.3 1020.6M243.2 1012.4L243.2 1020.6M251.1 1012.4L251.1 1020.6M259.0 1012.4L259.0 1020.6M266.9 1012.4L266.9 1020.6M274.8 1012.4L274.8 1020.6M282.7 1012.4L282.7 1020.6M290.6 1012.4L290.6 1020.6M298.5 1012.4L298.5 1020.6M306.4 1012.4L306.4 1020.6M314.3 1012.4L314.3 1020.6M322.2 1012.4L322.2 1020.6M330.1 1012.4L330.1 1020.6M338.0 1012.4L338.0 1020.6M345.9 1012.4L345.9 1020.6M353.8 1012.4L353.8 1020.6M361.7 1012.4L361.7 1020.6M369.6 1012.4L369.6 1020.6M377.5 1012.4L377.5 1020.6M385.4 1012.4L385.4 1020.6M393.3 1012.4L393.3 1020.6M401.2 1012.4L401.2 1020.6M409.1 1012.4L409.1 1020.6M417.0 1012.4L417.0 1020.6M424.9 1012.4L424.9 1020.6M432.8 1012.4L432.8 1020.6M440.7 1012.4L440.7 1020.6M448.6 1012.4L448.6 1020.6M456.5 1012.4L456.5 1020.6M464.4 1012.4L464.4 1020.6M472.3 1012.4L472.3 1020.6M480.2 1012.4L480.2 1020.6M488.1 1012.4L488.1 1020.6M496.0 1012.4L496.0 1020.6M503.9 1012.4L503.9 1020.6M511.8 1012.4L511.8 1020.6M519.7 1012.4L519.7 1020.6M527.6 1012.4L527.6 1020.6M535.5 1012.4L535.5 1020.6M543.4 1012.4L543.4 1020.6M551.3 1012.4L551.3 1020.6M559.2 1012.4L559.2 1020.6M567.1 1012.4L567.1 1020.6M575.0 1012.4L575.0 1020.6M582.9 1012.4L582.9 1020.6M590.8 1012.4L590.8 1020.6M598.7 1012.4L598.7 1020.6M606.6 1012.4L606.6 1020.6M614.5 1012.4L614.5 1020.6M622.4 1012.4L622.4 1020.6M630.3 1012.4L630.3 1020.6M638.2 1012.4L638.2 1020.6" stroke="#7a7a8a" stroke-width="0.9" fill="none"/>
<polyline points="72.4,1037.9 84.7,1047.3 97.0,1037.9 109.3,1047.3 121.6,1037.9 133.9,1047.3 146.2,1037.9 158.5,1047.3 170.8,1037.9 183.1,1047.3 195.4,1037.9 207.7,1047.3 220.0,1037.9 232.3,1047.3 244.6,1037.9 256.9,1047.3 269.2,1037.9 281.5,1047.3 293.8,1037.9 306.1,1047.3 318.4,1037.9 330.7,1047.3 343.0,1037.9 355.3,1047.3 367.6,1037.9 379.9,1047.3 392.2,1037.9 404.5,1047.3 416.8,1037.9 429.1,1047.3 441.4,1037.9 453.7,1047.3 466.0,1037.9 478.3,1047.3 490.6,1037.9 502.9,1047.3 515.2,1037.9 527.5,1047.3 539.8,1037.9 552.1,1047.3 564.4,1037.9 576.7,1047.3 589.0,1037.9 601.3,1047.3 613.6,1037.9 625.9,1047.3 638.2,1037.9 650.5,1047.3 662.8,1037.9 675.1,1047.3" fill="none" stroke="#6c6c7a" stroke-width="1.2" stroke-linejoin="round"/>
<polyline points="59.1,1060.2 72.1,1071.2 85.0,1060.2 98.0,1071.2 110.9,1060.2 123.9,1071.2 136.8,1060.2 149.8,1071.2 162.7,1060.2 175.7,1071.2 188.6,1060.2 201.6,1071.2 214.5,1060.2 227.5,1071.2 240.4,1060.2 253.4,1071.2 266.3,1060.2 279.3,1071.2 292.2,1060.2 305.2,1071.2 318.1,1060.2 331.1,1071.2 344.0,1060.2 356.9,1071.2 369.9,1060.2 382.8,1071.2 395.8,1060.2 408.7,1071.2 421.7,1060.2 434.6,1071.2 447.6,1060.2 460.5,1071.2 473.5,1060.2 486.4,1071.2 499.4,1060.2 512.3,1071.2 525.3,1060.2 538.2,1071.2 551.2,1060.2 564.1,1071.2 577.1,1060.2 590.0,1071.2 603.0,1060.2 615.9,1071.2 628.9,1060.2 641.8,1071.2 654.8,1060.2 667.7,1071.2" fill="none" stroke="#6c6c7a" stroke-width="1.3" stroke-linejoin="round"/>
<line x1="100.0" y1="1012.60" x2="640.0" y2="1012.60" stroke="#454553" stroke-width="1.6"/>
<line x1="100.0" y1="1020.60" x2="640.0" y2="1020.60" stroke="#454553" stroke-width="1.2"/>
<line x1="100.0" y1="1022.30" x2="640.0" y2="1022.30" stroke="#55556a" stroke-width="1.2"/>
<line x1="100.0" y1="1037.90" x2="640.0" y2="1037.90" stroke="#7a7a88" stroke-width="1.1"/>
<line x1="100.0" y1="1047.30" x2="640.0" y2="1047.30" stroke="#55556a" stroke-width="1.2"/>
<line x1="100.0" y1="1057.30" x2="640.0" y2="1057.30" stroke="#55556a" stroke-width="1.2"/>
<line x1="100.0" y1="1060.20" x2="640.0" y2="1060.20" stroke="#454553" stroke-width="1.3"/>
<line x1="100.0" y1="1071.40" x2="640.0" y2="1071.40" stroke="#454553" stroke-width="1.7"/>
</g>
<polygon points="143.5,1012.0 591.5,1012.0 603.0,1016.0 617.0,1040.0 617.0,1072.0 120.0,1072.0 120.0,1040.0 133.0,1016.0" fill="none" stroke="#6e6e7c" stroke-width="1.1"/>
</g>
<rect x="133.70" y="348.30" width="11.80" height="11.00" fill="#b0b0bc"/><rect x="135.70" y="348.30" width="3.00" height="11.00" fill="#d0d0dc" opacity="0.8"/><rect x="142.00" y="348.30" width="2.00" height="11.00" fill="#7a7a88" opacity="0.8"/><rect x="134.00" y="359.30" width="11.20" height="3.70" fill="#22222a"/>
<rect x="590.20" y="349.30" width="11.80" height="11.00" fill="#b0b0bc"/><rect x="592.20" y="349.30" width="3.00" height="11.00" fill="#d0d0dc" opacity="0.8"/><rect x="598.50" y="349.30" width="2.00" height="11.00" fill="#7a7a88" opacity="0.8"/><rect x="590.50" y="360.30" width="11.20" height="3.60" fill="#22222a"/>
<rect x="133.70" y="511.20" width="11.80" height="6.10" fill="#b0b0bc"/><rect x="135.70" y="511.20" width="3.00" height="6.10" fill="#d0d0dc" opacity="0.8"/><rect x="142.00" y="511.20" width="2.00" height="6.10" fill="#7a7a88" opacity="0.8"/><rect x="134.00" y="517.30" width="11.20" height="3.00" fill="#22222a"/>
<rect x="590.20" y="511.00" width="11.80" height="6.10" fill="#b0b0bc"/><rect x="592.20" y="511.00" width="3.00" height="6.10" fill="#d0d0dc" opacity="0.8"/><rect x="598.50" y="511.00" width="2.00" height="6.10" fill="#7a7a88" opacity="0.8"/><rect x="590.50" y="517.10" width="11.20" height="3.20" fill="#22222a"/>
<g transform="matrix(1 0 -0.0034 1 2.006 0)">
<rect x="133.70" y="857.00" width="11.80" height="7.20" fill="#b0b0bc"/><rect x="135.70" y="857.00" width="3.00" height="7.20" fill="#d0d0dc" opacity="0.8"/><rect x="142.00" y="857.00" width="2.00" height="7.20" fill="#7a7a88" opacity="0.8"/>
</g>
<rect x="590.20" y="857.00" width="11.80" height="7.20" fill="#b0b0bc"/><rect x="592.20" y="857.00" width="3.00" height="7.20" fill="#d0d0dc" opacity="0.8"/><rect x="598.50" y="857.00" width="2.00" height="7.20" fill="#7a7a88" opacity="0.8"/>
<rect x="132.40" y="1013" width="10.80" height="38" fill="#a8a8b8" opacity="0.45"/>
<polygon points="133.8,1030.0 142.6,1030.0 141.6,1033.8 134.8,1033.8" fill="#1a1a22"/>
<polygon points="132.9,1049.9 141.7,1049.9 140.7,1054.6 133.9,1054.6" fill="#1a1a22"/>
<rect x="589.40" y="1013" width="11.00" height="38" fill="#a8a8b8" opacity="0.45"/>
<polygon points="589.4,1027.6 599.7,1027.6 598.7,1030.6 590.4,1030.6" fill="#1a1a22"/>
<polygon points="590.9,1047.9 599.7,1047.9 598.7,1051.7 591.9,1051.7" fill="#1a1a22"/>
<g transform="matrix(1 0 0.0010 1 -0.590 0)">
<rect x="109.00" y="326.00" width="10.30" height="734.00" fill="url(#gOL)"/>
<rect x="106.00" y="309.60" width="14.00" height="17.00" fill="url(#gcapL)" rx="0.8"/>
<rect x="106.30" y="326.60" width="13.40" height="4.10" fill="#1e1e26"/>
<rect x="107.50" y="485.70" width="13.00" height="17.70" fill="url(#gcolL)"/>
<rect x="107.70" y="503.40" width="12.60" height="2.80" fill="#24242c"/>
<rect x="107.50" y="682.80" width="13.00" height="18.40" fill="url(#gcolL)"/>
<rect x="107.70" y="701.20" width="12.60" height="3.20" fill="#24242c"/>
<rect x="107.50" y="882.30" width="13.00" height="18.80" fill="url(#gcolL)"/>
<rect x="107.70" y="901.10" width="12.60" height="2.60" fill="#24242c"/>
<rect x="107.50" y="1056.50" width="13.00" height="19.20" fill="url(#gcol5L)"/>
<rect x="107.80" y="1075.70" width="12.40" height="3.00" fill="#1e1e26"/>
<rect x="109.00" y="1078.70" width="10.30" height="19.30" fill="url(#gfootL)"/>
<rect x="109.40" y="1098.00" width="9.50" height="5.50" fill="#16161c" rx="1"/>
</g>
<g transform="matrix(1 0 0.0025 1 -1.475 0)">
<rect x="618.40" y="326.00" width="10.80" height="734.00" fill="url(#gOR)"/>
<rect x="616.80" y="311.80" width="13.20" height="17.00" fill="url(#gcapR)" rx="0.8"/>
<rect x="617.10" y="328.80" width="12.60" height="4.10" fill="#1e1e26"/>
<rect x="617.00" y="487.40" width="14.00" height="17.70" fill="url(#gcolR)"/>
<rect x="617.20" y="505.10" width="13.60" height="2.80" fill="#24242c"/>
<rect x="617.00" y="684.40" width="14.00" height="18.40" fill="url(#gcolR)"/>
<rect x="617.20" y="702.80" width="13.60" height="3.20" fill="#24242c"/>
<rect x="617.00" y="882.80" width="14.00" height="18.80" fill="url(#gcolR)"/>
<rect x="617.20" y="901.60" width="13.60" height="2.60" fill="#24242c"/>
<rect x="617.00" y="1056.50" width="14.00" height="19.20" fill="url(#gcol5R)"/>
<rect x="617.30" y="1075.70" width="13.40" height="3.00" fill="#1e1e26"/>
<rect x="618.40" y="1078.70" width="10.80" height="19.30" fill="url(#gfootR)"/>
<rect x="618.80" y="1098.00" width="10.00" height="5.50" fill="#16161c" rx="1"/>
</g>
<polygon points="337.6,208.1 403.4,208.1 434.6,322.6 306.3,322.6" fill="#000"/>
<text x="339.32" y="253.00" font-family="Liberation Sans" font-size="34.5" font-weight="bold" fill="#fff" stroke="#fff" stroke-width="0.7" stroke-linejoin="round" textLength="62.38" lengthAdjust="spacingAndGlyphs" xml:space="preserve">800</text>
<text x="345.45" y="298.00" font-family="Liberation Sans" font-size="33.5" font-weight="bold" fill="#fff" stroke="#fff" stroke-width="0.7" stroke-linejoin="round" textLength="49.70" lengthAdjust="spacingAndGlyphs" xml:space="preserve">lbs</text>
<polygon points="337.6,383.8 403.4,383.8 434.6,498.3 306.3,498.3" fill="#000"/>
<text x="339.32" y="428.70" font-family="Liberation Sans" font-size="34.5" font-weight="bold" fill="#fff" stroke="#fff" stroke-width="0.7" stroke-linejoin="round" textLength="62.38" lengthAdjust="spacingAndGlyphs" xml:space="preserve">800</text>
<text x="345.45" y="473.70" font-family="Liberation Sans" font-size="33.5" font-weight="bold" fill="#fff" stroke="#fff" stroke-width="0.7" stroke-linejoin="round" textLength="49.70" lengthAdjust="spacingAndGlyphs" xml:space="preserve">lbs</text>
<polygon points="337.6,565.9 403.4,565.9 434.6,680.4 306.3,680.4" fill="#000"/>
<text x="339.32" y="610.80" font-family="Liberation Sans" font-size="34.5" font-weight="bold" fill="#fff" stroke="#fff" stroke-width="0.7" stroke-linejoin="round" textLength="62.38" lengthAdjust="spacingAndGlyphs" xml:space="preserve">800</text>
<text x="345.45" y="655.80" font-family="Liberation Sans" font-size="33.5" font-weight="bold" fill="#fff" stroke="#fff" stroke-width="0.7" stroke-linejoin="round" textLength="49.70" lengthAdjust="spacingAndGlyphs" xml:space="preserve">lbs</text>
<polygon points="337.6,753.9 403.4,753.9 434.6,868.4 306.3,868.4" fill="#000"/>
<text x="339.32" y="798.80" font-family="Liberation Sans" font-size="34.5" font-weight="bold" fill="#fff" stroke="#fff" stroke-width="0.7" stroke-linejoin="round" textLength="62.38" lengthAdjust="spacingAndGlyphs" xml:space="preserve">800</text>
<text x="345.45" y="843.80" font-family="Liberation Sans" font-size="33.5" font-weight="bold" fill="#fff" stroke="#fff" stroke-width="0.7" stroke-linejoin="round" textLength="49.70" lengthAdjust="spacingAndGlyphs" xml:space="preserve">lbs</text>
<polygon points="337.6,943.1 403.4,943.1 434.6,1057.6 306.3,1057.6" fill="#000"/>
<text x="339.32" y="988.00" font-family="Liberation Sans" font-size="34.5" font-weight="bold" fill="#fff" stroke="#fff" stroke-width="0.7" stroke-linejoin="round" textLength="62.38" lengthAdjust="spacingAndGlyphs" xml:space="preserve">800</text>
<text x="345.45" y="1033.00" font-family="Liberation Sans" font-size="33.5" font-weight="bold" fill="#fff" stroke="#fff" stroke-width="0.7" stroke-linejoin="round" textLength="49.70" lengthAdjust="spacingAndGlyphs" xml:space="preserve">lbs</text>
<polygon points="201.6,100 1042,100 953,146.8 113.5,146.8" fill="#000"/>
<text x="194.76" y="137.70" font-family="Liberation Sans" font-size="42.5" fill="#fff" stroke="#000" stroke-width="0.45" stroke-linejoin="round" textLength="375.72" lengthAdjust="spacingAndGlyphs" xml:space="preserve">48" x 18" x 72" 5-Tier</text>
<text x="582.10" y="137.70" font-family="Liberation Sans" font-size="42.5" font-weight="bold" fill="#fff" stroke="#fff" stroke-width="0.6" stroke-linejoin="round" textLength="168.37" lengthAdjust="spacingAndGlyphs" xml:space="preserve">Chrome</text>
<text x="762.50" y="137.70" font-family="Liberation Sans" font-size="42.5" fill="#fff" stroke="#000" stroke-width="0.45" stroke-linejoin="round" textLength="192.48" lengthAdjust="spacingAndGlyphs" xml:space="preserve">Wire Rack</text>
<text x="-2.81" y="46.00" font-family="Liberation Sans" font-size="59" fill="#000" stroke="#000" stroke-width="0.5" stroke-linejoin="round" textLength="141.52" lengthAdjust="spacingAndGlyphs" xml:space="preserve">Utility</text>
<text x="151.16" y="46.00" font-family="Liberation Sans" font-size="59" fill="#000" stroke="#000" stroke-width="0.5" stroke-linejoin="round" textLength="140.59" lengthAdjust="spacingAndGlyphs" xml:space="preserve">Basics</text>
<text x="294.00" y="13.10" font-family="Liberation Sans" font-size="10.8" font-weight="bold" fill="#000" textLength="14.76" lengthAdjust="spacingAndGlyphs" xml:space="preserve">TM</text>
<text x="724.44" y="452.90" font-family="Liberation Sans" font-size="38.5" fill="#000" stroke="#fff" stroke-width="0.55" stroke-linejoin="round" textLength="332.49" lengthAdjust="spacingAndGlyphs" xml:space="preserve">Maximum Weight</text>
<text x="725.60" y="496.70" font-family="Liberation Sans" font-size="38.5" fill="#000" stroke="#fff" stroke-width="0.55" stroke-linejoin="round" textLength="172.17" lengthAdjust="spacingAndGlyphs" xml:space="preserve">Capacity</text>
<text x="726.82" y="574.50" font-family="Liberation Sans" font-size="38.5" fill="#000" stroke="#fff" stroke-width="0.55" stroke-linejoin="round" textLength="226.99" lengthAdjust="spacingAndGlyphs" xml:space="preserve">4,000 lbs on</text>
<text x="962.06" y="574.50" font-family="Liberation Sans" font-size="38.5" font-weight="bold" fill="#000" stroke="#000" stroke-width="0.7" stroke-linejoin="round" textLength="163.43" lengthAdjust="spacingAndGlyphs" xml:space="preserve">Leveling</text>
<text x="724.61" y="619.00" font-family="Liberation Sans" font-size="38.5" font-weight="bold" fill="#000" stroke="#000" stroke-width="0.7" stroke-linejoin="round" textLength="84.17" lengthAdjust="spacingAndGlyphs" xml:space="preserve">Feet</text>
<text x="818.77" y="619.00" font-family="Liberation Sans" font-size="38.5" fill="#000" stroke="#fff" stroke-width="0.55" stroke-linejoin="round" textLength="226.37" lengthAdjust="spacingAndGlyphs" xml:space="preserve">(800 lbs per</text>
<text x="726.69" y="662.50" font-family="Liberation Sans" font-size="38.5" fill="#000" stroke="#fff" stroke-width="0.55" stroke-linejoin="round" textLength="104.50" lengthAdjust="spacingAndGlyphs" xml:space="preserve">shelf)</text>
<text x="725.14" y="750.80" font-family="Liberation Sans" font-size="38.5" fill="#000" stroke="#fff" stroke-width="0.55" stroke-linejoin="round" textLength="191.74" lengthAdjust="spacingAndGlyphs" xml:space="preserve">720 lbs on</text>
<text x="925.41" y="750.80" font-family="Liberation Sans" font-size="38.5" font-weight="bold" fill="#000" stroke="#000" stroke-width="0.7" stroke-linejoin="round" textLength="131.32" lengthAdjust="spacingAndGlyphs" xml:space="preserve">Caster</text>
<text x="727.60" y="795.50" font-family="Liberation Sans" font-size="38.5" font-weight="bold" fill="#000" stroke="#000" stroke-width="0.7" stroke-linejoin="round" textLength="142.80" lengthAdjust="spacingAndGlyphs" xml:space="preserve">Wheels</text>
<text x="879.90" y="795.50" font-family="Liberation Sans" font-size="38.5" fill="#000" stroke="#fff" stroke-width="0.55" stroke-linejoin="round" textLength="213.43" lengthAdjust="spacingAndGlyphs" xml:space="preserve">(144 lbs per</text>
<text x="726.68" y="838.30" font-family="Liberation Sans" font-size="38.5" fill="#000" stroke="#fff" stroke-width="0.55" stroke-linejoin="round" textLength="105.43" lengthAdjust="spacingAndGlyphs" xml:space="preserve">shelf)</text>
</svg>
</body></html>
